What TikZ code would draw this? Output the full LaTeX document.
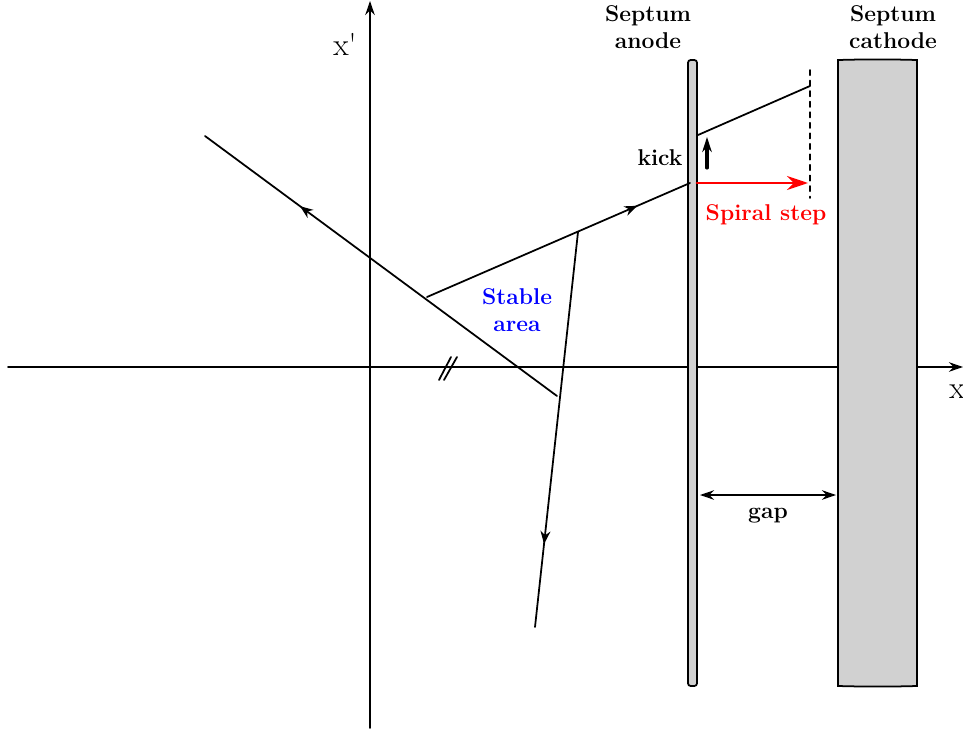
\documentclass[tikz,border=0pt]{standalone}
\usepackage{tikz}
\usetikzlibrary{arrows.meta,decorations.markings}
\usepackage{xcolor}

\tikzset{
  midarrow/.style={postaction={decorate},decoration={markings,
    mark=at position #1 with {\arrow{Stealth[length=2.6mm,width=2mm]}}}},
  plate/.style={draw,fill=black!18,line width=1pt},
  lbl/.style={font=\fontsize{13}{15}\selectfont\bfseries,align=center,inner sep=1pt},
}

\begin{document}
\begin{tikzpicture}[>={Stealth[length=2.8mm,width=1.9mm]},line width=1pt,line cap=round]
\useasboundingbox (0,0) rectangle (19.26,14.68);
% axes
\coordinate (xl) at (0.16,7.34);
\coordinate (xr) at (19.26,7.34);
\coordinate (yb) at (7.4,0.12);
\coordinate (yt) at (7.4,14.66);
\draw[->] (xl) -- (xr);
\draw[->] (yb) -- (yt);
\node (xlab) at (19.14,6.84) {\fontsize{18}{20}\selectfont x};
\node (yplab) at (6.9,13.8) {\fontsize{18}{20}\selectfont x\textquotesingle};
\draw (8.78,7.08) -- (9.02,7.54);
\draw (8.88,7.08) -- (9.14,7.54);
% septum plates
\draw[plate,rounded corners=1.5pt] (13.76,0.96) rectangle (13.94,13.48);
\draw[plate] (16.76,0.96) to[bend right=1.5] (18.34,0.96) -- (18.34,13.48)
  to[bend right=1.5] (16.76,13.48) -- cycle;
\node[lbl] (anode) at (12.96,14.14) {Septum\\anode};
\node[lbl] (cathode) at (17.86,14.14) {Septum\\cathode};
% trajectory
\coordinate (p1) at (4.1,11.96);
\coordinate (p2) at (11.14,6.76);
\coordinate (a) at (8.54,8.74);
\coordinate (b) at (13.8,11.02);
\coordinate (c) at (11.56,10.04);
\coordinate (d) at (10.7,2.14);
\draw[midarrow=0.73] (p2) -- (p1);
\draw[midarrow=0.8] (a) -- (b);
\draw[midarrow=0.79] (c) -- (d);
\node[lbl,text=blue] (stable) at (10.34,8.48) {Stable\\area};
% kick and spiral step
\coordinate (k1) at (13.96,11.98);
\coordinate (k2) at (16.2,12.96);
\draw (k1) -- (k2);
\coordinate (dt) at (16.2,13.28);
\coordinate (db) at (16.2,10.72);
\draw[dashed] (dt) -- (db);
\coordinate (s1) at (13.94,11.02);
\coordinate (s2) at (16.16,11.02);
\draw[->,red,line width=1.6pt,>={Stealth[length=4.2mm,width=2.8mm,inset=1.4mm]}] (s1) -- (s2);
\node[lbl,text=red] (spiral) at (15.32,10.38) {Spiral step};
\coordinate (kb) at (14.14,11.32);
\coordinate (kt) at (14.14,11.94);
\draw[->,line width=1.8pt,>={Stealth[length=3mm,width=1.9mm]}] (kb) -- (kt);
\node[lbl] (kick) at (13.2,11.52) {kick};
% gap
\coordinate (g1) at (14.0,4.78);
\coordinate (g2) at (16.72,4.78);
\draw[<->] (g1) -- (g2);
\node[lbl] (gap) at (15.36,4.36) {gap};
\end{tikzpicture}
\end{document}
